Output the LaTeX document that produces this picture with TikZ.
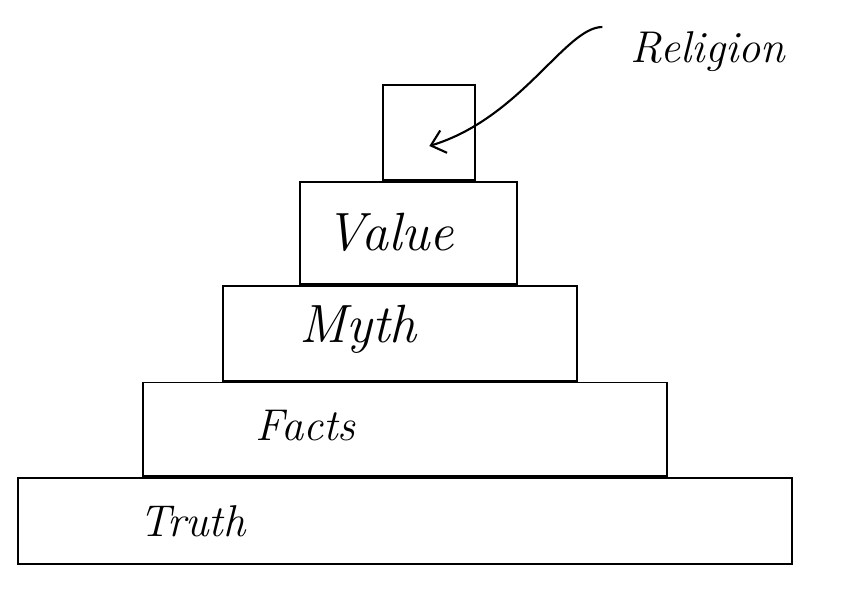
\documentclass[tikz,border=0pt]{standalone}
\usepackage{tikz}
\usetikzlibrary{arrows.meta,positioning}

\begin{document}
\begin{tikzpicture}[x=0.03cm,y=-0.03cm,
  tier/.style={draw,line width=1.6pt,inner sep=0pt},
  word/.style={inner sep=0pt,font=\fontsize{38}{44}\selectfont\itshape},
  bigword/.style={word,font=\fontsize{46}{52}\selectfont\itshape}]
  \useasboundingbox (0,0) rectangle (866,593);
  % the stack, from the base up
  \node[tier,minimum width=23.2cm,minimum height=2.6cm] (truth) at (405,521) {};
  \node[tier,minimum width=15.7cm,minimum height=2.8cm,above=0pt of truth] (facts) {};
  \node[tier,minimum width=10.6cm,minimum height=2.85cm,above=0pt of facts,xshift=-0.15cm] (myth) {};
  \node[tier,minimum width=6.5cm,minimum height=3.05cm,above=0pt of myth,xshift=0.25cm] (value) {};
  \node[tier,minimum width=2.76cm,minimum height=2.85cm,above=0pt of value,xshift=0.63cm] (top) {};
  \node[word,right=3.65cm of truth.west] (ltruth) {Truth};
  \node[word,right=3.4cm of facts.west,yshift=0.1cm] (lfacts) {Facts};
  \node[bigword,right=2.3cm of myth.west,yshift=0.1cm] (lmyth) {Myth};
  \node[bigword,right=0.8cm of value.west] (lvalue) {Value};
  \node[word] (rel) at (708,52) {Religion};
  \coordinate (tip) at ([yshift=-0.4cm]top.center);
  \draw[line width=1.8pt,-{Straight Barb[length=4mm,width=7mm]}]
    ([xshift=-0.85cm,yshift=0.75cm]rel.west) .. controls +(-1.1cm,0cm) and +(2.76cm,0.84cm) .. (tip);
\end{tikzpicture}
\end{document}
